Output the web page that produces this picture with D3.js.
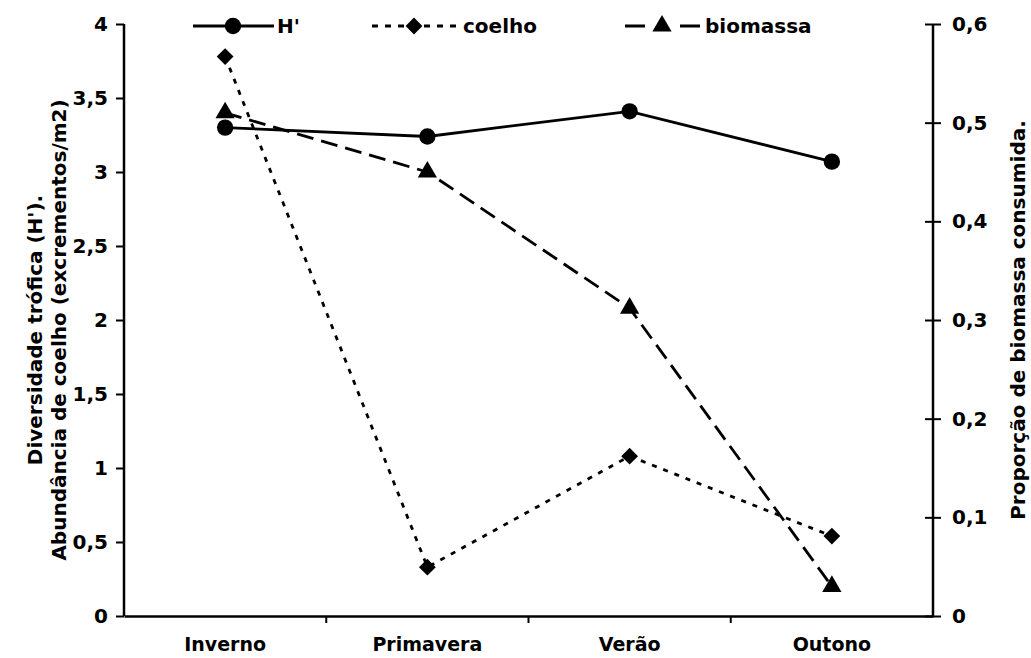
<!DOCTYPE html>
<html>
<head>
<meta charset="utf-8">
<script src="https://cdn.jsdelivr.net/npm/d3@7"></script>
<style>
  html, body { margin: 0; padding: 0; background: #ffffff; }
  svg { display: block; }
  text { font-family: "DejaVu Sans", Verdana, sans-serif; font-weight: bold; fill: #000; }
</style>
</head>
<body>
<svg id="chart" width="1031" height="658"></svg>
<script>
const categories = ["Inverno", "Primavera", "Verão", "Outono"];
const hValues = [3.30, 3.24, 3.41, 3.07];
const coelhoValues = [3.78, 0.33, 1.08, 0.54];
const biomassaValues = [0.51, 0.45, 0.312, 0.03];
const leftTicks = [0, 0.5, 1, 1.5, 2, 2.5, 3, 3.5, 4];
const rightTicks = [0, 0.1, 0.2, 0.3, 0.4, 0.5, 0.6];
const leftTitle = ["Diversidade trófica (H').", "Abundância de coelho (excrementos/m2)"];
const rightTitle = "Proporção de biomassa consumida.";
const legendLabels = ["H'", "coelho", "biomassa"];

const svg = d3.select("#chart");
const L = 124, R = 933, T = 24, B = 616;
const FS = 20;

const x = d3.scaleBand().domain(categories).range([L, R]);
const yL = d3.scaleLinear().domain([0, 4]).range([B, T]);
const yR = d3.scaleLinear().domain([0, 0.6]).range([B, T]);
const fmt = d => String(d).replace(".", ",");

// axes
const gL = svg.append("g").attr("transform", `translate(${L},0)`)
  .call(d3.axisLeft(yL).tickValues(leftTicks).tickFormat(fmt).tickSize(8).tickPadding(8));
const gR = svg.append("g").attr("transform", `translate(${R},0)`)
  .call(d3.axisRight(yR).tickValues(rightTicks).tickFormat(fmt).tickSizeInner(8).tickSizeOuter(0).tickPadding(11));
gR.selectAll(".tick line").attr("x1", -8).attr("x2", 8);
const gX = svg.append("g").attr("transform", `translate(0,${B})`)
  .call(d3.axisBottom(x).tickValues([]).tickSizeOuter(0));
// category boundary ticks
svg.append("g").selectAll("line").data(categories.slice(1)).join("line")
  .attr("x1", d => x(d)).attr("x2", d => x(d))
  .attr("y1", B).attr("y2", B + 7).attr("stroke", "#000").attr("stroke-width", 2);
svg.append("g").selectAll("text").data(categories).join("text")
  .attr("x", d => x(d) + x.bandwidth() / 2).attr("y", B + 35)
  .attr("text-anchor", "middle").attr("font-size", 19).text(d => d);

[gL, gR, gX].forEach(g => {
  g.selectAll("path.domain").attr("stroke", "#000").attr("stroke-width", 2.5);
  g.selectAll(".tick line").attr("stroke", "#000").attr("stroke-width", 2);
  g.selectAll(".tick text").attr("font-size", FS).attr("font-family", "DejaVu Sans").attr("font-weight", "bold").attr("fill", "#000");
});
gL.select("path.domain").attr("d", `M0,${T}V${B}`);
gR.select("path.domain").attr("d", `M0,${T}V${B}`);

// titles
const midY = (T + B) / 2;
svg.append("text").attr("transform", `translate(42,${midY + 10}) rotate(-90)`)
  .attr("text-anchor", "middle").attr("font-size", FS).text(leftTitle[0]);
svg.append("text").attr("transform", `translate(66,${midY + 10}) rotate(-90)`)
  .attr("text-anchor", "middle").attr("font-size", FS).text(leftTitle[1]);
svg.append("text").attr("transform", `translate(1025,${midY}) rotate(-90)`)
  .attr("text-anchor", "middle").attr("font-size", FS).text(rightTitle);

const cx = d => x(d) + x.bandwidth() / 2;

// lines
const lineH = d3.line().x((d, i) => cx(categories[i])).y(d => yL(d));
const lineB = d3.line().x((d, i) => cx(categories[i])).y(d => yR(d));
svg.append("path").datum(hValues).attr("d", lineH).attr("fill", "none").attr("stroke", "#000").attr("stroke-width", 2.8);
svg.append("path").datum(coelhoValues).attr("d", lineH).attr("fill", "none").attr("stroke", "#000").attr("stroke-width", 2.8).attr("stroke-dasharray", "5,7");
svg.append("path").datum(biomassaValues).attr("d", lineB).attr("fill", "none").attr("stroke", "#000").attr("stroke-width", 2.8).attr("stroke-dasharray", "17,8");

const sym = {
  circle: d3.symbol().type(d3.symbolCircle).size(210),
  diamond: d3.symbol().type(d3.symbolDiamond2).size(180),
  triangle: d3.symbol().type(d3.symbolTriangle).size(160)
};
svg.append("g").selectAll("path").data(hValues).join("path")
  .attr("transform", (d, i) => `translate(${cx(categories[i])},${yL(d)})`).attr("d", sym.circle()).attr("fill", "#000");
svg.append("g").selectAll("path").data(coelhoValues).join("path")
  .attr("transform", (d, i) => `translate(${cx(categories[i])},${yL(d)})`).attr("d", sym.diamond()).attr("fill", "#000");
svg.append("g").selectAll("path").data(biomassaValues).join("path")
  .attr("transform", (d, i) => `translate(${cx(categories[i])},${yR(d)})`).attr("d", sym.triangle()).attr("fill", "#000");

// legend
const ly = 26;
const leg = svg.append("g");
// H'
leg.append("line").attr("x1", 193).attr("x2", 274).attr("y1", ly).attr("y2", ly).attr("stroke", "#000").attr("stroke-width", 2.8);
leg.append("path").attr("transform", `translate(233,${ly})`).attr("d", sym.circle()).attr("fill", "#000");
leg.append("text").attr("x", 277).attr("y", ly + 7).attr("font-size", FS).text(legendLabels[0]);
// coelho
leg.append("line").attr("x1", 372).attr("x2", 458).attr("y1", ly).attr("y2", ly).attr("stroke", "#000").attr("stroke-width", 2.8).attr("stroke-dasharray", "6,7");
leg.append("path").attr("transform", `translate(414,${ly})`).attr("d", sym.diamond()).attr("fill", "#000");
leg.append("text").attr("x", 463).attr("y", ly + 7).attr("font-size", FS).text(legendLabels[1]);
// biomassa
leg.append("line").attr("x1", 625).attr("x2", 700).attr("y1", ly).attr("y2", ly).attr("stroke", "#000").attr("stroke-width", 2.8).attr("stroke-dasharray", "20,35");
leg.append("path").attr("transform", `translate(662,${ly})`).attr("d", sym.triangle()).attr("fill", "#000");
leg.append("text").attr("x", 705).attr("y", ly + 7).attr("font-size", FS).text(legendLabels[2]);
</script>
</body>
</html>
